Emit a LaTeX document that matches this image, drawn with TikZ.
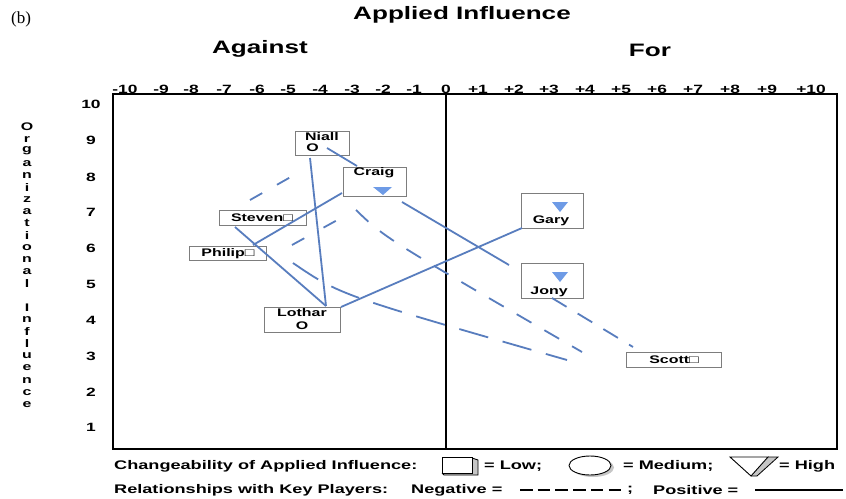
\documentclass[tikz,border=0pt]{standalone}
\usepackage{fontspec}
\setmainfont{Liberation Sans}
\newfontfamily\serifb{Liberation Serif}
\definecolor{relblue}{RGB}{88,125,190}
\definecolor{trifill}{RGB}{110,155,230}
\definecolor{boxgray}{RGB}{125,125,125}
\newcommand\sx[1]{\scalebox{1.45}[1]{#1}}
\begin{document}
\begin{tikzpicture}[x=1pt,y=-1pt,
  lab/.style={inner sep=0pt, font=\bfseries\fontsize{11}{13}\selectfont},
  tick/.style={inner sep=0pt, font=\bfseries\fontsize{12}{14}\selectfont},
  vlet/.style={inner sep=0pt, font=\bfseries\fontsize{11}{12}\selectfont},
  legend/.style={inner sep=0pt, anchor=west, font=\bfseries\fontsize{12.5}{15}\selectfont},
  head/.style={inner sep=0pt, font=\bfseries\fontsize{18}{20}\selectfont},
  player/.style={draw=boxgray, line width=0.9pt, fill=white, inner sep=0pt},
  relline/.style={draw=relblue, line width=1.8pt},
  tri/.style={fill=trifill, draw=none},
  frame/.style={draw=black, line width=1.3pt}]
\useasboundingbox (0,0) rectangle (846,498);
\fill[white] (0,0) rectangle (846,498);

% headings
\node[inner sep=0pt, font=\serifb\fontsize{17}{19}\selectfont] (fig) at (21,19) {(b)};
\node[head] (title) at (462,15) {\sx{Applied Influence}};
\node[head] (against) at (260,49) {\sx{Against}};
\node[head] (for) at (650,50) {\sx{For}};

% frame
\draw[frame] (113,94) rectangle (837,449);
\draw[frame] (446,94) -- (446,449);

% x tick labels
\foreach \v/\x [count=\i] in {-10/125,-9/161,-8/191,-7/224,-6/257,-5/288,-4/320,-3/352,-2/383,-1/414,0/446,
  +1/478,+2/514,+3/549,+4/585,+5/621,+6/657,+7/693,+8/730,+9/767,+10/811}
  \node[tick] (xt\i) at (\x,89) {\sx{\v}};
% y tick labels
\foreach \v/\y in {10/104,9/140,8/177,7/212,6/248,5/284,4/320,3/356,2/392,1/427}
  \node[tick] (yt\v) at (91,\y) {\sx{\v}};
% vertical axis title
\foreach \c [count=\i from 0] in {O,r,g,a,n,i,z,a,t,i,o,n,a,l}
  \node[vlet] (va\i) at (27,{127+12.05*\i}) {\sx{\c}};
\foreach \c [count=\i from 15] in {I,n,f,l,u,e,n,c,e}
  \node[vlet] (va\i) at (27,{127+12.05*\i}) {\sx{\c}};

% player boxes
\node[player, minimum width=54pt, minimum height=24pt] (niall) at (322,143.5) {};
\node[lab] (niallt) at (322,136.5) {\sx{Niall}};
\node[lab] (niallo) at (312.5,148) {\sx{O}};

\node[player, minimum width=63pt, minimum height=29pt] (craig) at (374.5,181.5) {};
\node[lab] (craigt) at (374,172.5) {\sx{Craig}};
\fill[tri] (373,187) -- (392,187) -- (383,195) -- cycle;

\node[player, minimum width=87pt, minimum height=15pt] (steven) at (262.5,217.5) {};
\node[lab] (stevent) at (262,218) {\sx{Steven□}};

\node[player, minimum width=77pt, minimum height=14pt] (philip) at (227.5,253) {};
\node[lab] (philipt) at (228,253.5) {\sx{Philip□}};

\node[player, minimum width=76pt, minimum height=25pt] (lothar) at (302,319.5) {};
\node[lab] (lothart) at (302,313) {\sx{Lothar}};
\node[lab] (lotharo) at (302,325.5) {\sx{O}};

\node[player, minimum width=62pt, minimum height=35pt] (gary) at (552,210.5) {};
\fill[tri] (552,202) -- (568,202) -- (560,212) -- cycle;
\node[lab] (garyt) at (551,221) {\sx{Gary}};

\node[player, minimum width=62pt, minimum height=35pt] (jony) at (552,280.5) {};
\fill[tri] (552,272) -- (568,272) -- (560,282) -- cycle;
\node[lab] (jonyt) at (549,291.5) {\sx{Jony}};

\node[player, minimum width=95pt, minimum height=15pt] (scott) at (673.5,359.5) {};
\node[lab] (scottt) at (674,360) {\sx{Scott□}};

% connector end points
\coordinate (nA) at (327,148);  \coordinate (cA) at (357,166);
\coordinate (nB) at (310,158);  \coordinate (lA) at (326,306);
\coordinate (cB) at (342,193);  \coordinate (pA) at (253,245);
\coordinate (cC) at (402,202);  \coordinate (jA) at (509,265);
\coordinate (sA) at (235,227);
\coordinate (lB) at (341,307);  \coordinate (gA) at (522,228);
\coordinate (dA1) at (250,200); \coordinate (dA2) at (296,174);
\coordinate (dB1) at (292,245); \coordinate (dB2) at (341,218);
\coordinate (dC1) at (356,210); \coordinate (dC2) at (582,352);
\coordinate (dD1) at (552,298); \coordinate (dD2) at (633,347);
\coordinate (dE1) at (293,263); \coordinate (dE2) at (567,360);

% positive relationships
\draw[relline] (nA) -- (cA);
\draw[relline] (nB) -- (lA);
\draw[relline] (cB) -- (pA);
\draw[relline] (cC) -- (jA);
\draw[relline] (sA) -- (lA);
\draw[relline] (lB) -- (gA);
% negative relationships
\draw[relline, dash pattern=on 14pt off 17pt] (dA1) -- (dA2);
\draw[relline, dash pattern=on 14pt off 22pt] (dB1) -- (dB2);
\draw[relline, dash pattern=on 17pt off 15pt] (dC1) .. controls (385,238) .. (dC2);
\draw[relline, dash pattern=on 17pt off 13pt] (dD1) -- (dD2);
\draw[relline, dash pattern=on 30pt off 15pt] (dE1) .. controls (340,295) .. (dE2);

% legend line 1
\node[legend] (lg1) at (114,466) {\sx{Changeability of Applied Influence:}};
\fill[gray!45] (472,458) -- (478,460) -- (478,475) -- (444,475) -- (442,473) -- (472,473) -- cycle;
\draw[line width=0.8pt] (472,458) -- (478,460) -- (478,475) -- (444,475) -- (442,473);
\draw[line width=0.9pt, fill=white] (442,457) rectangle (472,473);
\node[legend] (lglow) at (484,466) {\sx{= Low;}};
\fill[gray!45] (593,467.5) ellipse [x radius=21, y radius=9.5];
\draw[line width=0.9pt, fill=white] (590,465.5) ellipse [x radius=21, y radius=9.5];
\node[legend] (lgmed) at (623,466) {\sx{= Medium;}};
\fill[gray!45] (768,457) -- (778,457) -- (757,476) -- (751,476) -- cycle;
\draw[line width=0.8pt] (768,457) -- (778,457) -- (757,476) -- (751,476);
\draw[line width=0.9pt, fill=white] (730,457) -- (768,457) -- (751,476) -- cycle;
\node[legend] (lghigh) at (779,466) {\sx{= High}};

% legend line 2
\node[legend] (lg2) at (114,490) {\sx{Relationships with Key Players:}};
\node[legend] (lgneg) at (411,490) {\sx{Negative =}};
\coordinate (ng1) at (520,490); \coordinate (ng2) at (621,490);
\draw[line width=1.3pt, dash pattern=on 12.5pt off 5.2pt] (ng1) -- (ng2);
\node[legend] (lgsemi) at (627,490) {\sx{;}};
\node[legend] (lgpos) at (653,490) {\sx{Positive =}};
\coordinate (ps1) at (755,490); \coordinate (ps2) at (843,490);
\draw[line width=1.2pt] (ps1) -- (ps2);
\end{tikzpicture}
\end{document}
